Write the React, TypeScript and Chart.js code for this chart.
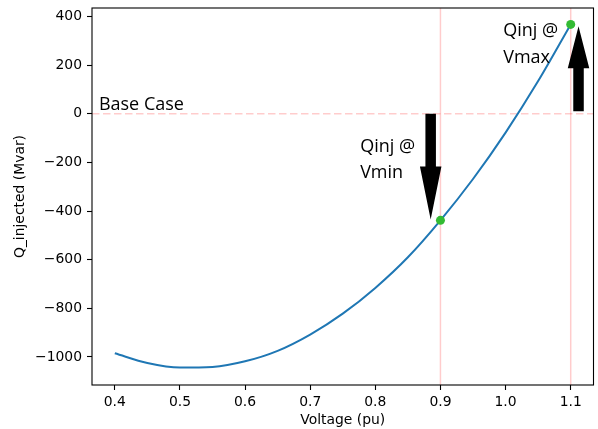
import React, { useEffect, useRef } from "react";
import { Chart, registerables } from "chart.js";

Chart.register(...registerables);

// Curve data: Voltage (pu) vs Q_injected (Mvar)
const voltage = [0.4, 0.45, 0.5, 0.55, 0.6, 0.65, 0.7, 0.75, 0.8, 0.85, 0.9, 0.95, 1.0, 1.05, 1.1];
const qInjected = [-985, -1025, -1044, -1041, -1018, -975, -908, -822, -716, -590, -438, -268, -77, 135, 368];

// Highlighted points (Qinj @ Vmin, Qinj @ Vmax)
const markerV = [0.9, 1.1];
const markerQ = [-438, 368];

// Reference lines
const refVoltages = [0.9, 1.1];
const baseCaseQ = 0;

// Arrows (data coords)
const arrowV = [0.885, 1.112];
const arrowFromQ = [0, 11];
const arrowToQ = [-435, 360];

// Text annotations
const labelText = ["Base Case", "Qinj @\nVmin", "Qinj @\nVmax"];
const labelV = [0.3756, 0.7767, 0.9963];
const labelQ = [16, -155, 319];

// Ticks
const xTicks = [0.4, 0.5, 0.6, 0.7, 0.8, 0.9, 1.0, 1.1];
const yTicks = [-1000, -800, -600, -400, -200, 0, 200, 400];

const TICK_FONT = { family: "'DejaVu Sans', sans-serif", size: 13.9 };

const overlayPlugin = {
  id: "overlay",
  beforeDatasetsDraw(chart: any) {
    const { ctx, chartArea, scales } = chart;
    const x = scales.x;
    const y = scales.y;
    ctx.save();
    ctx.beginPath();
    ctx.rect(chartArea.left, chartArea.top, chartArea.right - chartArea.left, chartArea.bottom - chartArea.top);
    ctx.clip();
    ctx.strokeStyle = "rgba(255,0,0,0.2)";
    ctx.lineWidth = 1.5;
    ctx.beginPath();
    refVoltages.forEach((v) => {
      const px = x.getPixelForValue(v);
      ctx.moveTo(px, chartArea.top);
      ctx.lineTo(px, chartArea.bottom);
    });
    ctx.stroke();
    ctx.setLineDash([7.5, 3.5]);
    ctx.beginPath();
    const py = y.getPixelForValue(baseCaseQ);
    ctx.moveTo(chartArea.left, py);
    ctx.lineTo(chartArea.right, py);
    ctx.stroke();
    ctx.restore();
  },
  afterDatasetsDraw(chart: any) {
    const { ctx, chartArea, scales } = chart;
    const x = scales.x;
    const y = scales.y;
    ctx.save();
    // arrows
    const shaftW = 10.5;
    const headW = 21.5;
    const headLens = [53, 42];
    ctx.fillStyle = "#000";
    arrowV.forEach((v, i) => {
      const px = x.getPixelForValue(v);
      const y0 = y.getPixelForValue(arrowFromQ[i]);
      const y1 = y.getPixelForValue(arrowToQ[i]);
      const dir = y1 > y0 ? 1 : -1;
      const hb = y1 - dir * headLens[i];
      ctx.beginPath();
      ctx.moveTo(px - shaftW / 2, y0);
      ctx.lineTo(px + shaftW / 2, y0);
      ctx.lineTo(px + shaftW / 2, hb);
      ctx.lineTo(px + headW / 2, hb);
      ctx.lineTo(px, y1);
      ctx.lineTo(px - headW / 2, hb);
      ctx.lineTo(px - shaftW / 2, hb);
      ctx.closePath();
      ctx.fill();
    });
    // labels
    ctx.font = "18px 'Open Sans', sans-serif";
    ctx.textAlign = "left";
    ctx.textBaseline = "alphabetic";
    labelText.forEach((t, i) => {
      const px = x.getPixelForValue(labelV[i]);
      const py = y.getPixelForValue(labelQ[i]);
      t.split("\n").forEach((line, j) => {
        ctx.fillText(line, px, py + j * 26.7);
      });
    });
    // frame
    ctx.strokeStyle = "#000";
    ctx.lineWidth = 1.1;
    ctx.strokeRect(chartArea.left, chartArea.top, chartArea.right - chartArea.left, chartArea.bottom - chartArea.top);
    ctx.restore();
  },
};

export default function App() {
  const canvasRef = useRef<HTMLCanvasElement | null>(null);

  useEffect(() => {
    document.body.style.margin = "0";
    const canvas = canvasRef.current;
    if (!canvas) return;
    const chart = new Chart(canvas, {
      type: "line",
      data: {
        datasets: [
          {
            label: "Q",
            data: voltage.map((v, i) => ({ x: v, y: qInjected[i] })),
            borderColor: "#1f77b4",
            borderWidth: 2,
            pointRadius: 0,
            fill: false,
            cubicInterpolationMode: "monotone",
            order: 2,
          },
          {
            label: "markers",
            data: markerV.map((v, i) => ({ x: v, y: markerQ[i] })),
            showLine: false,
            pointRadius: 4.5,
            pointBackgroundColor: "#33bb33",
            pointBorderWidth: 0,
            borderColor: "#33bb33",
            order: 1,
          },
        ],
      },
      options: {
        animation: false,
        responsive: true,
        maintainAspectRatio: false,
        layout: { padding: { top: 8, right: 1, left: 0, bottom: 0 } },
        plugins: { legend: { display: false }, tooltip: { enabled: false } },
        scales: {
          x: {
            type: "linear",
            min: 0.365,
            max: 1.135,
            afterBuildTicks: (s: any) => {
              s.ticks = xTicks.map((v) => ({ value: v }));
            },
            afterFit: (s: any) => {
              s.height = 44;
              s.paddingLeft = 0;
              s.paddingRight = 0;
            },
            afterUpdate: (s: any) => {
              s.paddingRight = 0;
            },
            ticks: {
              autoSkip: false,
              maxRotation: 0,
              padding: 4,
              color: "#000",
              font: TICK_FONT,
              callback: (v: any) => Number(v).toFixed(1),
            },
            grid: { drawOnChartArea: false, drawTicks: true, tickLength: 5, tickColor: "#000", tickWidth: 1.1 },
            border: { display: false },
            title: { display: true, text: "Voltage (pu)", color: "#000", font: TICK_FONT, padding: { top: 0, bottom: 0 } },
          },
          y: {
            type: "linear",
            min: -1115.5,
            max: 435.5,
            afterBuildTicks: (s: any) => {
              s.ticks = yTicks.map((v) => ({ value: v }));
            },
            afterFit: (s: any) => {
              s.width = 92;
              s.paddingTop = 0;
              s.paddingBottom = 0;
            },
            ticks: {
              autoSkip: false,
              padding: 5,
              color: "#000",
              font: TICK_FONT,
              callback: (v: any) => (Number(v) < 0 ? "\u2212" + Math.abs(Number(v)) : String(v)),
            },
            grid: { drawOnChartArea: false, drawTicks: true, tickLength: 5, tickColor: "#000", tickWidth: 1.1 },
            border: { display: false },
            title: { display: true, text: "Q_injected (Mvar)", color: "#000", font: TICK_FONT, padding: { top: 12, bottom: 0 } },
          },
        },
      },
      plugins: [overlayPlugin],
    } as any);
    return () => chart.destroy();
  }, []);

  return (
    <div style={{ position: "absolute", left: 0, top: 0, width: 598, height: 429 }}>
      <canvas ref={canvasRef} style={{ display: "block" }} />
    </div>
  );
}
